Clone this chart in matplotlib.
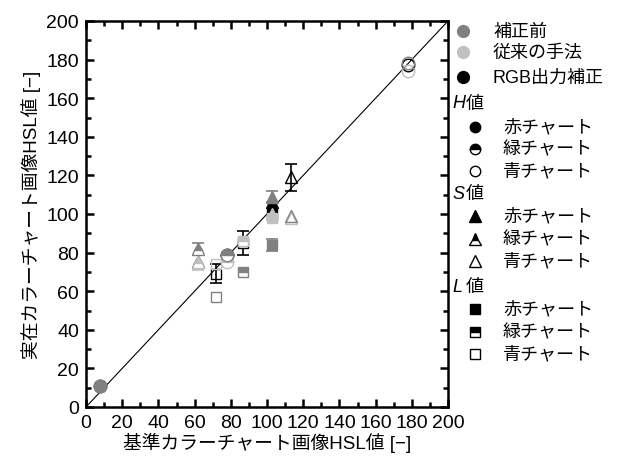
import numpy as np
import matplotlib
matplotlib.use('Agg')
import matplotlib.pyplot as plt
from matplotlib.ticker import MultipleLocator

plt.rcParams['font.family'] = ['Liberation Sans', 'Noto Sans CJK JP', 'DejaVu Sans']

# reference chart values (red, green, blue chart) for each HSL component
ref_H = [8, 78, 178]
ref_S = [103, 62, 113]
ref_L = [103, 87, 72]

# measured values: before correction
before_H = [11, 79, 178]
before_S = [109, 82, 99]
before_L = [84, 70, 57]
before_err_S = [3, 3, 0]
before_err_L = [3, 0, 0]

# conventional method
conv_H = [11, 75, 174]
conv_S = [100, 75, 98]
conv_L = [98, 86, 74]
conv_err_S = [0, 4, 0]

# RGB output correction
rgb_H = [11, 79, 177]
rgb_S = [106, 75, 119]
rgb_L = [100, 85, 69]
rgb_err_S = [0, 0, 7]
rgb_err_L = [0, 6, 5]

series_labels = ['補正前', '従来の手法', 'RGB出力補正']
series_colors = ['#808080', '#c0c0c0', 'black']
chart_labels = ['赤チャート', '緑チャート', '青チャート']
fills = ['full', 'top', 'none']

fig = plt.figure(figsize=(6.28, 4.64), dpi=100)
ax = fig.add_axes([86 / 628, 1 - 408 / 464, 362 / 628, 386 / 464])

ax.plot([0, 200], [0, 200], color='black', lw=0.8, zorder=1)

datasets = [
    (before_H, before_S, before_L, [0, 0, 0], before_err_S, before_err_L),
    (conv_H, conv_S, conv_L, [0, 0, 0], conv_err_S, [0, 0, 0]),
    (rgb_H, rgb_S, rgb_L, [0, 0, 0], rgb_err_S, rgb_err_L),
]
zorders = [5, 4, 3]
for (vH, vS, vL, eH, eS, eL), col, z in zip(datasets, series_colors, zorders):
    for xs, ys, es, mk, ms in [(ref_H, vH, eH, 'o', 9),
                               (ref_S, vS, eS, '^', 9),
                               (ref_L, vL, eL, 's', 7.5)]:
        for i in range(3):
            if es[i] > 0:
                ax.errorbar(xs[i], ys[i], yerr=es[i], fmt='none', ecolor=col,
                            elinewidth=1.2, capsize=4, capthick=1.2, zorder=z)
            ax.plot(xs[i], ys[i], marker=mk, ms=ms, color=col, mec=col,
                    fillstyle=fills[i], markerfacecoloralt='white',
                    mew=1.0, ls='none', zorder=z + 0.5)

ax.set_xlim(0, 200)
ax.set_ylim(0, 200)
ax.xaxis.set_major_locator(MultipleLocator(20))
ax.yaxis.set_major_locator(MultipleLocator(20))
ax.xaxis.set_minor_locator(MultipleLocator(10))
ax.yaxis.set_minor_locator(MultipleLocator(10))
ax.tick_params(which='both', direction='in', top=True, right=True,
               labelsize=14, width=1.8, pad=5)
ax.tick_params(which='major', length=6)
ax.tick_params(which='minor', length=3.5)
for sp in ax.spines.values():
    sp.set_linewidth(1.8)

ax.set_xlabel('基準カラーチャート画像HSL値 [−]', fontsize=13.5, labelpad=1)
ax.set_ylabel('実在カラーチャート画像HSL値 [−]', fontsize=13.5, labelpad=4)

# legend drawn by hand in pixel coordinates
lax = fig.add_axes([0, 0, 1, 1], frameon=False)
lax.set_xlim(0, 628)
lax.set_ylim(464, 0)
lax.set_axis_off()

for lab, col, y in zip(series_labels, series_colors, [32, 53, 78]):
    lax.plot(463, y, marker='o', ms=8.5, color=col, mec=col, ls='none')
    lax.text(493, y, lab, fontsize=13, va='center', ha='left')

groups = [('H', 'o', 7.5, 104, [128, 150, 172]),
          ('S', '^', 8, 195, [217, 240, 262]),
          ('L', 's', 6.5, 288, [310, 333, 355])]
for name, mk, ms, yh, ys in groups:
    lax.text(452, yh, name, fontsize=13, style='italic', va='center', ha='left')
    lax.text(466, yh, '値', fontsize=13, va='center', ha='left')
    for lab, fs, y in zip(chart_labels, fills, ys):
        lax.plot(475, y, marker=mk, ms=ms, color='black', mec='black',
                 fillstyle=fs, markerfacecoloralt='white', mew=1.0, ls='none')
        lax.text(503, y, lab, fontsize=13, va='center', ha='left')

fig.savefig('out.png', dpi=100)
